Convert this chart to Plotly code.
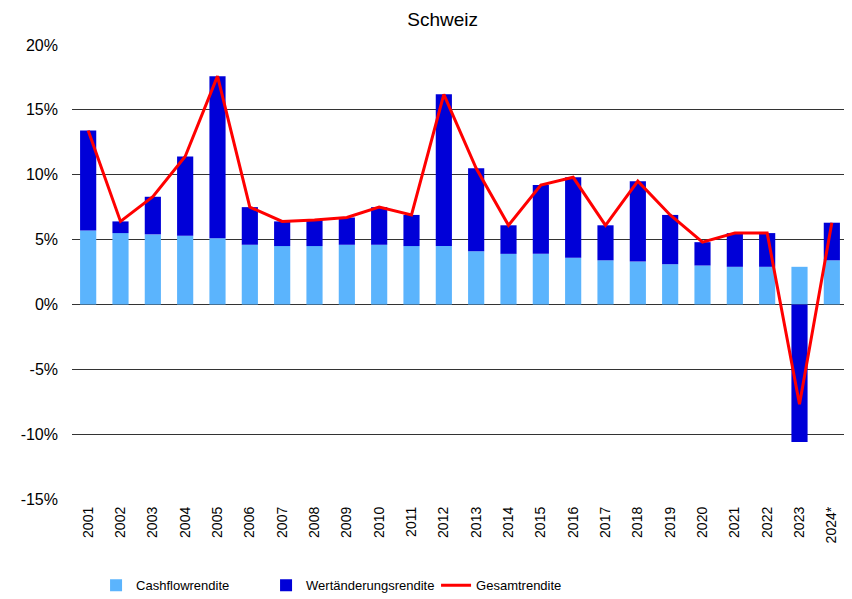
import plotly.graph_objects as go

years = ["2001","2002","2003","2004","2005","2006","2007","2008","2009","2010","2011","2012",
         "2013","2014","2015","2016","2017","2018","2019","2020","2021","2022","2023","2024*"]
cashflow = [5.7, 5.5, 5.4, 5.3, 5.1, 4.6, 4.5, 4.5, 4.6, 4.6, 4.5, 4.5,
            4.1, 3.9, 3.9, 3.6, 3.4, 3.3, 3.1, 3.0, 2.9, 2.9, 2.9, 3.4]
wertaenderung = [7.7, 0.9, 2.9, 6.1, 12.5, 2.9, 1.9, 2.0, 2.1, 2.9, 2.4, 11.7,
                 6.4, 2.2, 5.3, 6.2, 2.7, 6.2, 3.8, 1.8, 2.6, 2.6, -10.6, 2.9]
gesamt = [13.4, 6.4, 8.3, 11.4, 17.6, 7.5, 6.4, 6.5, 6.7, 7.5, 6.9, 16.2,
          10.5, 6.1, 9.2, 9.8, 6.1, 9.5, 6.9, 4.8, 5.5, 5.5, -7.7, 6.3]
y_ticks = [-15, -10, -5, 0, 5, 10, 15, 20]
y_labels = [f"{v}%" for v in y_ticks]

fig = go.Figure()
fig.add_trace(go.Bar(x=years, y=cashflow, name="Cashflowrendite",
                     marker=dict(color="#5BB4FD", line=dict(width=0))))
fig.add_trace(go.Bar(x=years, y=wertaenderung, name="Wertänderungsrendite",
                     marker=dict(color="#0000D8", line=dict(width=0))))
fig.add_trace(go.Scatter(x=years, y=gesamt, name="Gesamtrendite", mode="lines",
                         line=dict(color="#FF0000", width=3)))

# page body has an 8px margin, so the figure is 8px smaller and offsets shifted
fig.update_layout(
    width=844, height=591,
    barmode="relative", bargap=0.5,
    plot_bgcolor="white", paper_bgcolor="white",
    font=dict(family="Liberation Sans, Arial, sans-serif", size=16, color="black"),
    title=dict(text="Schweiz", x=0.515, xanchor="center", y=0.98, yanchor="middle",
               font=dict(size=19)),
    margin=dict(l=64, r=4, t=37, b=100, autoexpand=False),
    showlegend=True,
    legend=dict(orientation="h", x=0.031, xanchor="left", y=-0.19, yanchor="middle",
                entrywidth=125, entrywidthmode="pixels",
                font=dict(size=13)),
    xaxis=dict(tickangle=-90, showgrid=False, showline=False, ticks="",
               tickfont=dict(size=14), ticklabelstandoff=4),
    yaxis=dict(range=[-15, 20], tickvals=y_ticks, ticktext=y_labels,
               showgrid=True, gridcolor="#333333", gridwidth=1,
               zeroline=True, zerolinecolor="#333333", zerolinewidth=1,
               showline=False, ticks="", tickfont=dict(size=16),
               ticklabelstandoff=13),
)
fig.write_html("out.html")
